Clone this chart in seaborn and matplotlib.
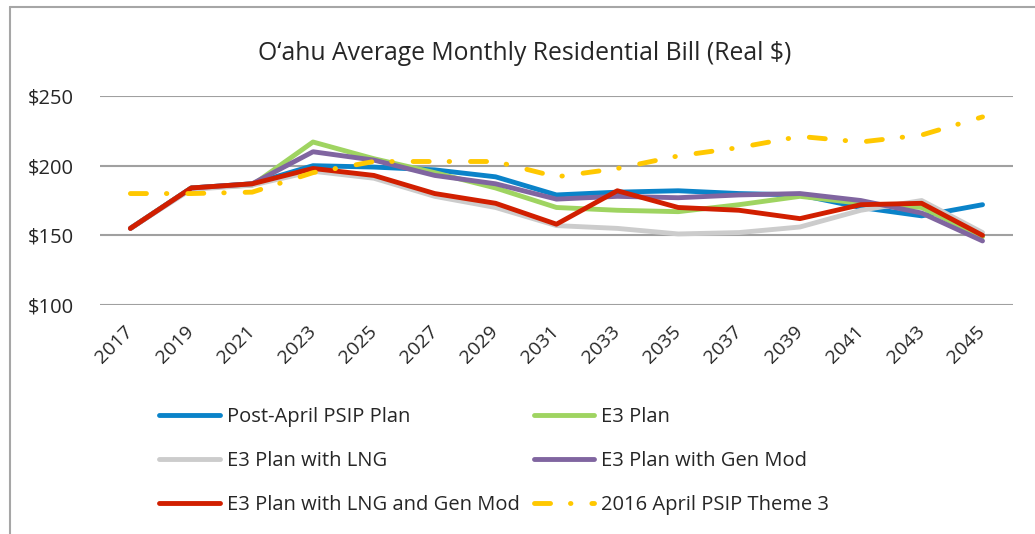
import pandas as pd
import seaborn as sns
import matplotlib.pyplot as plt
from matplotlib.lines import Line2D

# values (real $ per month)
years = [2017, 2019, 2021, 2023, 2025, 2027, 2029, 2031, 2033, 2035, 2037, 2039, 2041, 2043, 2045]
post_april = [155, 184, 187, 200, 199, 197, 192, 179, 181, 182, 180, 179, 170, 164, 172]
e3_plan = [155, 184, 186, 217, 205, 195, 184, 170, 168, 167, 172, 178, 173, 170, 149]
e3_lng = [155, 183, 186, 196, 191, 178, 170, 157, 155, 151, 152, 156, 168, 175, 152]
e3_genmod = [155, 184, 187, 210, 204, 193, 187, 176, 178, 177, 179, 180, 175, 166, 146]
e3_lng_genmod = [155, 184, 187, 198, 193, 180, 173, 158, 182, 170, 168, 162, 172, 173, 150]
psip_2016 = [180, 180, 181, 195, 203, 203, 203, 192, 198, 207, 213, 221, 217, 222, 235]

names = ['Post-April PSIP Plan', 'E3 Plan', 'E3 Plan with LNG', 'E3 Plan with Gen Mod',
         'E3 Plan with LNG and Gen Mod', '2016 April PSIP Theme 3']
series = [post_april, e3_plan, e3_lng, e3_genmod, e3_lng_genmod, psip_2016]
colors = ['#0a83c9', '#9fd461', '#cccccc', '#8065a0', '#d11f00', '#ffc800']

rows = []
for name, vals in zip(names, series):
    for yr, v in zip(years, vals):
        rows.append({'year': yr, 'bill': v, 'plan': name})
df = pd.DataFrame(rows)

sns.set_style('white')
plt.rcParams['font.family'] = ['Open Sans', 'DejaVu Sans']

fig = plt.figure(figsize=(10.35, 5.34), dpi=100)
ax = fig.add_axes([0.0966, 0.4288, 0.8821, 0.3914])

dash_map = {n: '' for n in names}
dash_map['2016 April PSIP Theme 3'] = (3.3, 4.1, 0.1, 4.3)

sns.lineplot(data=df, x='year', y='bill', hue='plan', style='plan', hue_order=names,
             style_order=names, palette=dict(zip(names, colors)), dashes=dash_map,
             linewidth=3.5, ax=ax, legend=False)
for ln in ax.get_lines():
    ln.set_dash_capstyle('round')
    ln.set_solid_capstyle('round')

ax.set_xlim(2016, 2046)
ax.set_ylim(100, 250)
ax.set_yticks([100, 150, 200, 250])
ax.set_yticklabels(['$100', '$150', '$200', '$250'])
ax.set_xticks(years)
ax.set_xticklabels([str(y) for y in years], rotation=45, ha='right', va='center',
                   rotation_mode='anchor')
ax.tick_params(axis='y', length=0, pad=19, labelsize=14.5)
ax.tick_params(axis='x', length=0, pad=17, labelsize=14)
ax.grid(axis='y', color='#a0a0a0', linewidth=1.5)
ax.set_axisbelow(True)
for s in ax.spines.values():
    s.set_visible(False)
ax.set_xlabel('')
ax.set_ylabel('')

fig.text(0.507, 0.9, 'O\u2018ahu Average Monthly Residential Bill (Real $)',
         ha='center', va='center', fontsize=17.8)

# legend, filled column by column
order = [0, 2, 4, 1, 3, 5]
handles = []
for i in order:
    ls = (0, dash_map[names[i]]) if dash_map[names[i]] else '-'
    handles.append(Line2D([], [], color=colors[i], linewidth=3.5, linestyle=ls,
                          dash_capstyle='round', solid_capstyle='round'))
fig.legend(handles, [names[i] for i in order], ncol=2, loc='upper left',
           bbox_to_anchor=(0.1363, 0.2725), frameon=False, fontsize=14.5,
           handlelength=3.0, handletextpad=0.35, columnspacing=0.7, labelspacing=1.2)

# outer frame of the chart area
fig.add_artist(Line2D([10 / 1035, 10 / 1035], [0, 1 - 7 / 534], color='#a6a6a6',
                      linewidth=1.5, transform=fig.transFigure))
fig.add_artist(Line2D([10 / 1035, 1], [1 - 7 / 534, 1 - 7 / 534], color='#a6a6a6',
                      linewidth=1.5, transform=fig.transFigure))

fig.savefig('out.png', dpi=100)
